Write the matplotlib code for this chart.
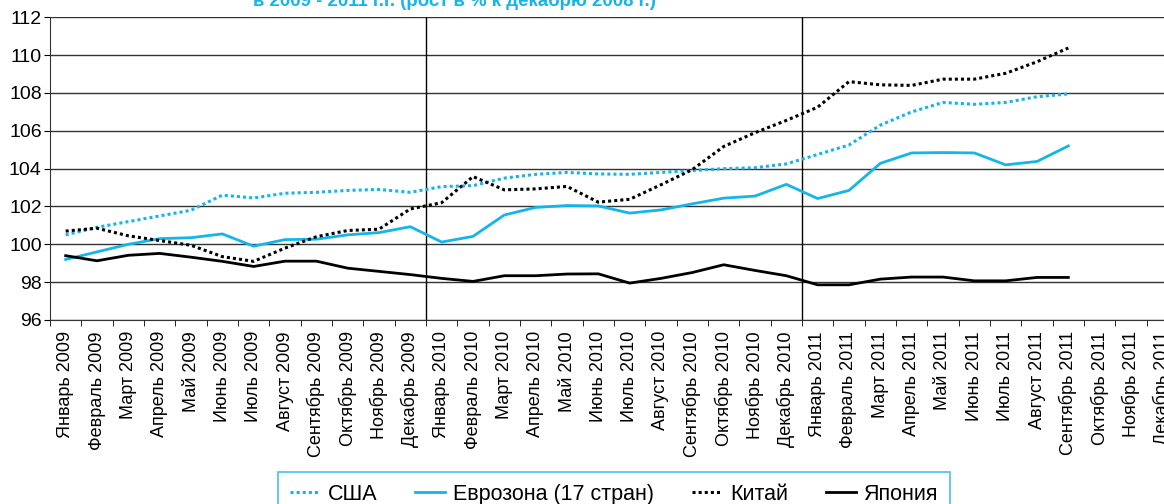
import matplotlib.pyplot as plt

plt.rcParams['font.family'] = ['Liberation Sans', 'DejaVu Sans']

# месяцы 2009-2011
months = ["Январь", "Февраль", "Март", "Апрель", "Май", "Июнь", "Июль",
          "Август", "Сентябрь", "Октябрь", "Ноябрь", "Декабрь"]
years = ["2009", "2010", "2011"]
labels = [m + " " + y for y in years for m in months]

# рост в % к декабрю 2008 г.
usa = [100.5, 100.9, 101.2, 101.5, 101.8, 102.6, 102.45, 102.7, 102.75, 102.85, 102.9, 102.75,
       103.05, 103.1, 103.5, 103.7, 103.8, 103.72, 103.7, 103.8, 103.9, 104.0, 104.05, 104.25,
       104.75, 105.25, 106.3, 107.0, 107.5, 107.4, 107.5, 107.8, 107.95]
euro = [99.2, 99.6, 100.0, 100.3, 100.35, 100.55, 99.9, 100.25, 100.27, 100.5, 100.62, 100.93,
        100.12, 100.42, 101.55, 101.95, 102.05, 102.03, 101.65, 101.82, 102.14, 102.44, 102.55, 103.17,
        102.42, 102.85, 104.28, 104.83, 104.85, 104.83, 104.2, 104.38, 105.2]
china = [100.7, 100.85, 100.45, 100.2, 99.95, 99.35, 99.1, 99.8, 100.4, 100.73, 100.8, 101.87,
         102.2, 103.58, 102.88, 102.93, 103.06, 102.23, 102.38, 103.15, 103.95, 105.17, 105.9, 106.55,
         107.25, 108.6, 108.43, 108.4, 108.73, 108.73, 109.04, 109.65, 110.38]
japan = [99.4, 99.13, 99.42, 99.52, 99.32, 99.1, 98.83, 99.11, 99.11, 98.74, 98.57, 98.4,
         98.2, 98.04, 98.34, 98.34, 98.43, 98.44, 97.95, 98.2, 98.51, 98.92, 98.62, 98.34,
         97.86, 97.86, 98.16, 98.27, 98.27, 98.07, 98.07, 98.25, 98.25]

cyan = '#13B5EA'

fig = plt.figure(figsize=(11.64, 5.04), dpi=100)
ax = fig.add_axes([50/1164, 184/504, 1128/1164, 302.7/504])

x = list(range(len(usa)))
ax.plot(x, usa, color=cyan, lw=2.2, ls=(0, (1, 1)), label='США')
ax.plot(x, euro, color=cyan, lw=2.0, label='Еврозона (17 стран)')
ax.plot(x, china, color='black', lw=2.2, ls=(0, (1, 1)), label='Китай')
ax.plot(x, japan, color='black', lw=2.0, label='Япония')

ax.set_xlim(-0.5, 35.5)
ax.set_ylim(96, 112)
ax.set_yticks(range(96, 113, 2))
ax.grid(axis='y', color='#333333', lw=1.0)
ax.set_axisbelow(True)
for xv in [11.5, 23.5]:
    ax.axvline(xv, color='black', lw=1.0, zorder=1)

ax.set_xticks(range(36))
ax.set_xticklabels(labels, rotation=90, fontsize=13)
ax.set_xticks([i - 0.5 for i in range(37)], minor=True)
ax.tick_params(axis='x', which='major', length=0, pad=8)
ax.tick_params(axis='x', which='minor', length=4, direction='out')
ax.tick_params(axis='y', labelsize=14, length=4, pad=2)

for s in ['top', 'right']:
    ax.spines[s].set_visible(False)
ax.spines['left'].set_color('#333333')
ax.spines['bottom'].set_color('#333333')

fig.text(454/1164, 1 - 5.5/504, 'в 2009 - 2011 г.г. (рост в % к декабрю 2008 г.)',
         ha='center', va='baseline', color=cyan, fontsize=13.4, fontweight='bold')

leg = fig.legend(loc='upper center', bbox_to_anchor=(614/1164, 1 - 472/504), ncol=4,
                 fontsize=15.5, frameon=True, fancybox=False, edgecolor=cyan,
                 handlelength=1.4, handletextpad=0.37, columnspacing=1.75,
                 borderpad=0.55, borderaxespad=0)
leg.get_frame().set_linewidth(1.2)

fig.savefig('out.png', dpi=100)
